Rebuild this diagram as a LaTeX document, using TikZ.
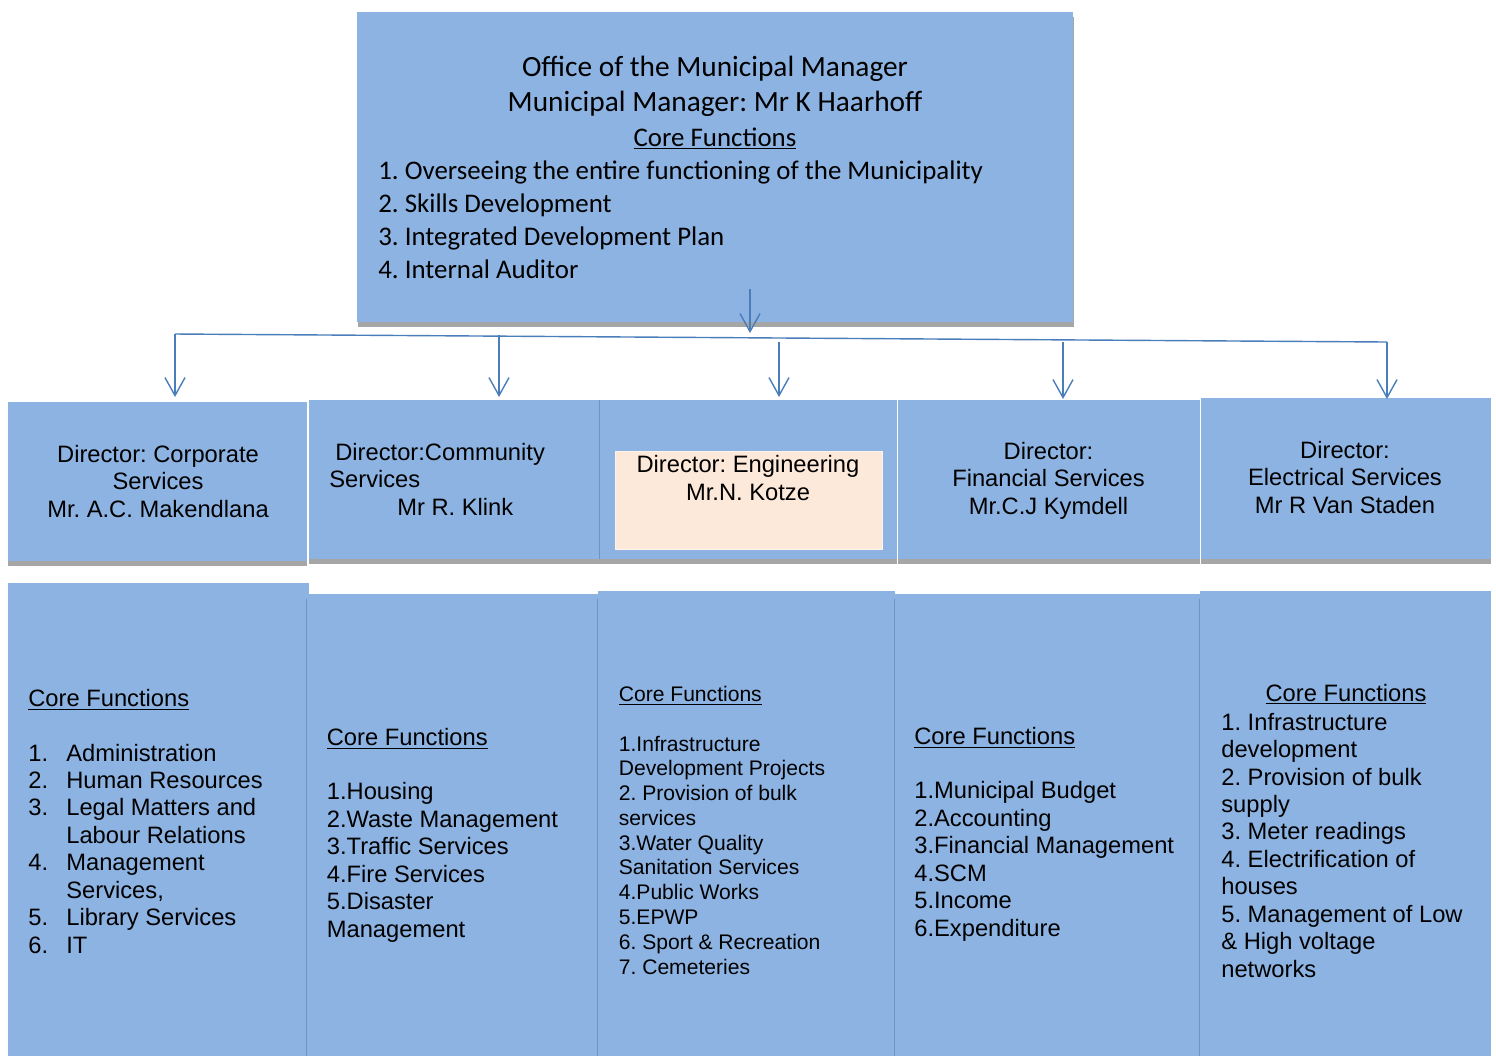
\documentclass[tikz,border=0pt]{standalone}
\usepackage{fontspec}
\setmainfont{Liberation Sans}
\newfontfamily\calibrifont{Carlito}
\usetikzlibrary{arrows.meta,fit,shadows}
\frenchspacing
\definecolor{boxblue}{HTML}{8DB3E2}
\definecolor{engpeach}{HTML}{FDE9D9}
\definecolor{linkblue}{HTML}{4A7EBB}
\definecolor{shadegray}{HTML}{A6A6A6}
\definecolor{sepblue}{HTML}{7393BD}
\newcommand{\itm}[1]{\makebox[0.76cm][l]{#1}}
\tikzset{
  mgrbox/.style    = {rectangle, fill=boxblue, inner sep=0pt,
                       drop shadow={shadow xshift=0.02cm, shadow yshift=-0.1cm, fill=shadegray, opacity=1}},
  dirbox/.style    = {rectangle, fill=boxblue, inner sep=0pt,
                       drop shadow={shadow xshift=0cm, shadow yshift=-0.1cm, fill=shadegray, opacity=1}},
  corebox/.style   = {rectangle, fill=boxblue, inner sep=0pt},
  engbox/.style    = {rectangle, fill=engpeach, draw=engpeach!50!white, line width=0.5pt, inner sep=0pt},
  mgrtxt/.style    = {font=\calibrifont\fontsize{16.7}{19.8}\selectfont, inner sep=0pt},
  dirtxt/.style    = {font=\fontsize{13.5}{15.5}\selectfont, align=center, anchor=base, inner sep=0pt},
  coretxt/.style   = {font=\fontsize{13.5}{15.6}\selectfont, align=left, anchor=base west, inner sep=0pt},
  engtxt/.style    = {coretxt, font=\fontsize{12}{14.1}\selectfont},
  linkarrow/.style = {-{Straight Barb[length=0.36cm,width=0.4cm]}, linkblue, line width=0.8pt},
  busline/.style   = {linkblue, line width=0.8pt},
  sepline/.style   = {sepblue, line width=0.4pt},
}
\begin{document}
\begin{tikzpicture}[x=0.02cm, y=-0.02cm]
\useasboundingbox (0,0) rectangle (1496,1056);

% municipal manager (text nodes sit on the baseline of their last line)
\node[mgrbox, fit={(357,12) (1073,322)}] (mm) {};
\node[mgrtxt, align=center, anchor=base] (mmhead) at (715,146)
  {Office of the Municipal Manager\\Municipal Manager: Mr K Haarhoff\\{\fontsize{15.3}{19.8}\selectfont\underline{Core Functions}}};
\node[mgrtxt, align=left, anchor=base west, font=\calibrifont\fontsize{15.3}{18.7}\selectfont] (mmlist) at (378,278)
  {1. Overseeing the entire functioning of the Municipality\\2. Skills Development\\3. Integrated Development Plan\\4. Internal Auditor};

% directors
\node[dirbox, fit={(8,402) (307,561)}]    (d1) {};
\node[dirbox, fit={(309,400) (600,559)}]  (d2) {};
\node[dirbox, fit={(600,400) (897,559)}]  (d3) {};
\node[dirbox, fit={(898,400) (1200,559)}] (d4) {};
\node[dirbox, fit={(1201,398) (1491,559)}] (d5) {};
\node[engbox, fit={(615,451) (882,549)}]  (eng) {};
\draw[sepline] (d3.north west) -- (d3.south west);

\node[dirtxt] (d1txt) at (158,517) {Director: Corporate\\Services\\Mr. A.C. Makendlana};
\node[dirtxt, align=left, anchor=base west] (d2txt) at (329,515)
  {\hspace{0.12cm}Director:Community\\Services\\\hspace{1.36cm}Mr R. Klink};
\node[dirtxt] (d3txt) at (748,500) {Director: Engineering\\Mr.N. Kotze};
\node[dirtxt] (d4txt) at (1048.5,514) {Director:\\Financial Services\\Mr.C.J Kymdell};
\node[dirtxt] (d5txt) at (1345,513) {Director:\\Electrical Services\\Mr R Van Staden};

% core functions
\node[corebox, fit={(8,583) (309,1056)}]    (c1) {};
\node[corebox, fit={(307,594) (598,1056)}]  (c2) {};
\node[corebox, fit={(598,591) (895,1056)}]  (c3) {};
\node[corebox, fit={(895,594) (1200,1056)}] (c4) {};
\node[corebox, fit={(1200,591) (1491,1056)}] (c5) {};
\draw[sepline] (c2.north west) ++(0,5) -- (c2.south west);
\draw[sepline] (c3.north west) ++(0,8) -- (c3.south west);
\draw[sepline] (c4.north west) ++(0,5) -- (c4.south west);
\draw[sepline] (c5.north west) ++(0,8) -- (c5.south west);

\node[coretxt] (c1txt) at (28,953)
  {\underline{Core Functions}\\[15.6pt]\itm{1.}Administration\\\itm{2.}Human Resources\\\itm{3.}Legal Matters and\\\itm{}Labour Relations\\\itm{4.}Management\\\itm{}Services,\\\itm{5.}Library Services\\\itm{6.}IT};
\node[coretxt] (c2txt) at (326.5,937)
  {\underline{Core Functions}\\[15.6pt]1.Housing\\2.Waste Management\\3.Traffic Services\\4.Fire Services\\5.Disaster\\Management};
\node[engtxt] (c3txt) at (618.5,974)
  {\underline{Core Functions}\\[14.1pt]1.Infrastructure\\Development Projects\\2. Provision of bulk\\services\\3.Water Quality\\Sanitation Services\\4.Public Works\\5.EPWP\\6. Sport \& Recreation\\7. Cemeteries};
\node[coretxt] (c4txt) at (914,936)
  {\underline{Core Functions}\\[15.6pt]1.Municipal Budget\\2.Accounting\\3.Financial Management\\4.SCM\\5.Income\\6.Expenditure};
\node[coretxt, anchor=base] (c5head) at (1346,701) {\underline{Core Functions}};
\node[coretxt] (c5txt) at (1221,977)
  {1. Infrastructure\\development\\2. Provision of bulk\\supply\\3. Meter readings\\4. Electrification of\\houses\\5. Management of Low\\\& High voltage\\networks};

% connectors
\coordinate (mmout) at (750,289);
\coordinate (busM)  at (750,333);
\coordinate (busL)  at (175,334);
\coordinate (bus2)  at (499,334.5);
\coordinate (bus3)  at (779,342);
\coordinate (bus4)  at (1063,342);
\coordinate (busR)  at (1387,342);
\coordinate (in1) at (175,397);
\coordinate (in2) at (499,397);
\coordinate (in3) at (779,397);
\coordinate (in4) at (1063,399);
\coordinate (in5) at (1387,399);

\draw[linkarrow] (mmout) -- (busM);
\draw[busline] (busL) -- (busR);
\draw[linkarrow] (busL) -- (in1);
\draw[linkarrow] (bus2) -- (in2);
\draw[linkarrow] (bus3) -- (in3);
\draw[linkarrow] (bus4) -- (in4);
\draw[linkarrow] (busR) -- (in5);
\end{tikzpicture}
\end{document}
